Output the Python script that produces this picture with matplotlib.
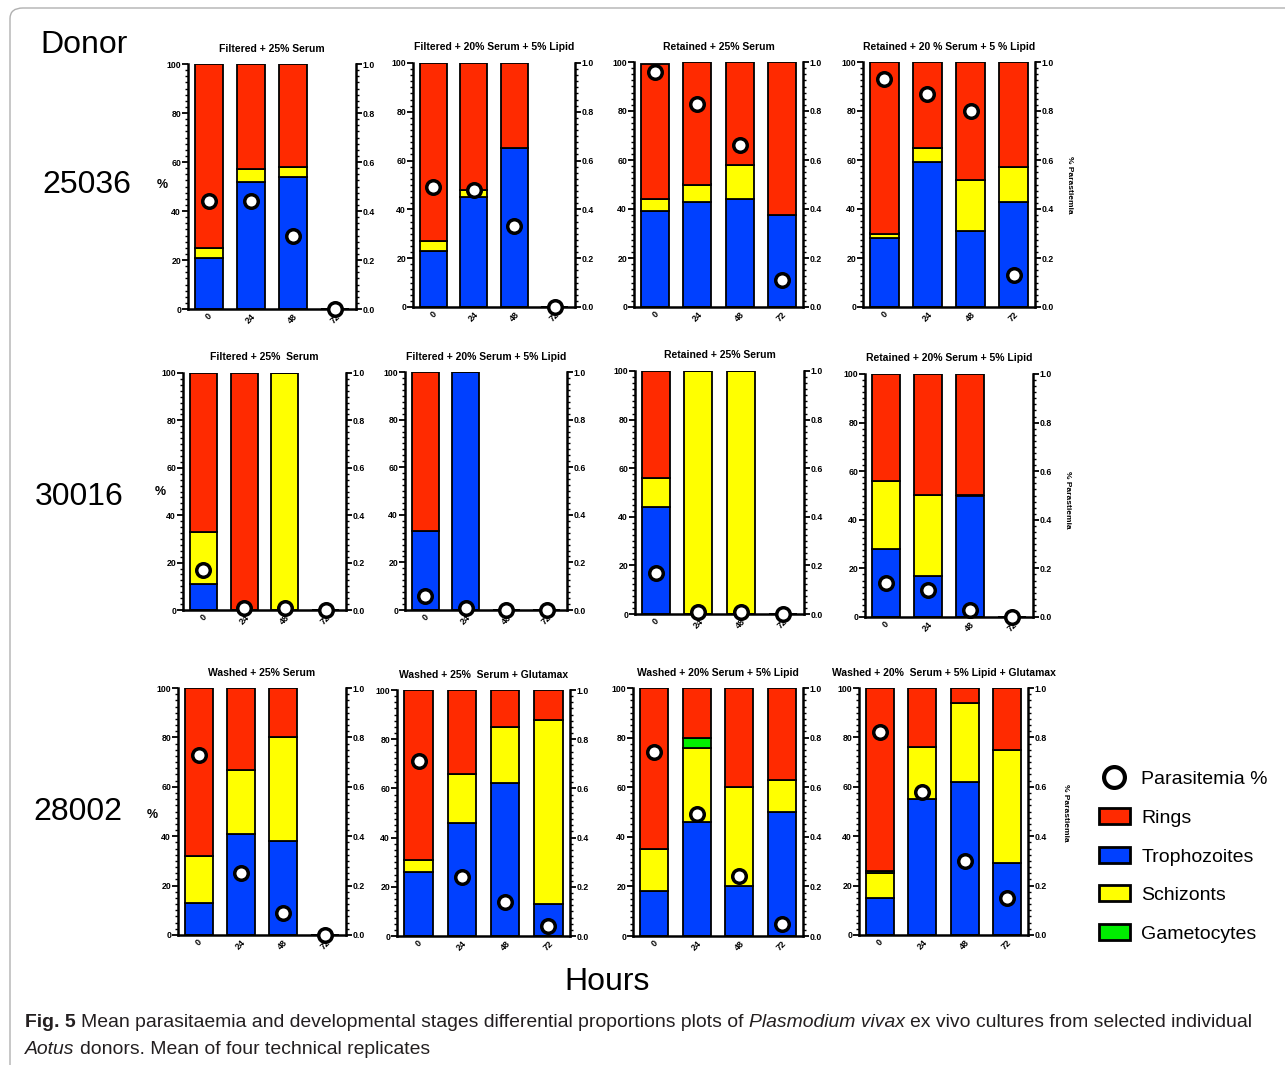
"""Fig. 5 -- stage proportions (stacked bars) + parasitaemia (circles) per donor/condition."""

import matplotlib
matplotlib.use("Agg")
import matplotlib.pyplot as plt
import matplotlib.patches as mpatches
from matplotlib.lines import Line2D
from matplotlib.ticker import MultipleLocator
import numpy as np

W, H = 1285, 1065

plt.rcParams["font.family"] = ["Liberation Sans", "DejaVu Sans"]

HOURS = ["0", "24", "48", "72"]
DONORS = ["25036", "30016", "28002"]

TITLES = [
    "Filtered + 25% Serum", "Filtered + 20% Serum + 5% Lipid",
    "Retained + 25% Serum", "Retained + 20 % Serum + 5 % Lipid",
    "Filtered + 25%  Serum", "Filtered + 20% Serum + 5% Lipid",
    "Retained + 25% Serum", "Retained + 20% Serum + 5% Lipid",
    "Washed + 25% Serum", "Washed + 25%  Serum + Glutamax",
    "Washed + 20% Serum + 5% Lipid", "Washed + 20%  Serum + 5% Lipid + Glutamax",
]

# stage percentages per panel, one value per time point (0, 24, 48, 72 h)
TROPHOZOITES = [
    [21, 52, 54, 0], [23, 45, 65, 0], [39, 43, 44, 37.5], [28, 59, 31, 43],
    [11, 0, 0, 0], [33, 100, 0, 0], [44, 0, 0, 0], [28, 17, 50, 0],
    [13, 41, 38, 0], [26, 46, 62, 13], [18, 46, 20, 50], [15, 55, 62, 29],
]
SCHIZONTS = [
    [4, 5, 4, 0], [4, 3, 0, 0], [5, 7, 14, 0], [2, 6, 21, 14],
    [22, 0, 100, 0], [0, 0, 0, 0], [12, 100, 100, 0], [28, 33, 0, 0],
    [19, 26, 42, 0], [5, 20, 23, 75], [17, 30, 40, 13], [10, 21, 32, 46],
]
GAMETOCYTES = [
    [0, 0, 0, 0], [0, 0, 0, 0], [0, 0, 0, 0], [0, 0, 0, 0],
    [0, 0, 0, 0], [0, 0, 0, 0], [0, 0, 0, 0], [0, 0, 0, 0],
    [0, 0, 0, 0], [0, 0, 0, 0], [0, 4, 0, 0], [1, 0, 0, 0],
]
RINGS = [
    [75, 43, 42, 0], [73, 52, 35, 0], [55, 50, 42, 62.5], [70, 35, 48, 43],
    [67, 100, 0, 0], [67, 0, 0, 0], [44, 0, 0, 0], [44, 50, 50, 0],
    [68, 33, 20, 0], [69, 34, 15, 12], [65, 20, 40, 37], [74, 24, 6, 25],
]
PARASITEMIA = [
    [0.44, 0.44, 0.30, 0.0], [0.49, 0.48, 0.33, 0.0], [0.96, 0.83, 0.66, 0.11], [0.93, 0.87, 0.80, 0.13],
    [0.17, 0.01, 0.01, 0.0], [0.06, 0.01, 0.0, 0.0], [0.17, 0.01, 0.01, 0.0], [0.14, 0.11, 0.03, 0.0],
    [0.73, 0.25, 0.09, 0.0], [0.71, 0.24, 0.14, 0.04], [0.74, 0.49, 0.24, 0.05], [0.82, 0.58, 0.30, 0.15],
]

C_RING = "#ff2a00"
C_TROPH = "#0040ff"
C_SCHIZ = "#ffff00"
C_GAM = "#00ee00"

# axes boxes in pixels (left, top, right, bottom)
BOXES = [
    (188, 64, 356, 309), (413, 63, 575, 307), (634, 62, 803, 307), (863, 62, 1035, 307),
    (183, 373, 346, 610), (405, 372, 567, 610), (635, 371, 804, 614), (865, 374, 1033, 617),
    (178, 688, 346, 935), (397, 690, 570, 936), (633, 688, 803, 936), (859, 688, 1028, 935),
]


def fx(px):
    return px / W


def fy(py):
    return 1 - py / H


def draw_panel(fig, i):
    l, t, r, b = BOXES[i]
    ax = fig.add_axes([fx(l), fy(b), (r - l) / W, (b - t) / H])
    x = np.arange(len(HOURS))
    bottom = np.zeros(len(HOURS))
    for vals, col in ((TROPHOZOITES[i], C_TROPH), (SCHIZONTS[i], C_SCHIZ),
                      (GAMETOCYTES[i], C_GAM), (RINGS[i], C_RING)):
        v = np.array(vals, dtype=float)
        ax.bar(x, v, 0.66, bottom=bottom, color=col, edgecolor="black",
               linewidth=1.3, zorder=2)
        bottom += v
    ax.set_xlim(-0.5, 3.5)
    ax.set_ylim(0, 100)
    ax.set_xticks(x)
    ax.set_xticklabels(HOURS, rotation=45, ha="center", fontsize=6.5, fontweight="bold")
    ax.set_yticks(range(0, 101, 20))
    ax.yaxis.set_minor_locator(MultipleLocator(2.5))
    for lab in ax.get_yticklabels():
        lab.set_fontsize(6.3)
        lab.set_fontweight("bold")
    for s in ("top", "right"):
        ax.spines[s].set_visible(False)
    for s in ("left", "bottom"):
        ax.spines[s].set_linewidth(1.8)
    ax.tick_params(axis="y", which="major", length=4, width=1.3, pad=1)
    ax.tick_params(axis="y", which="minor", length=2.2, width=1.0)
    ax.tick_params(axis="x", length=0, pad=2)

    ax2 = ax.twinx()
    ax2.set_ylim(0, 1)
    ax2.set_yticks(np.arange(0, 1.01, 0.2))
    ax2.set_yticklabels([f"{v:.1f}" for v in np.arange(0, 1.01, 0.2)],
                        fontsize=6.3, fontweight="bold")
    ax2.yaxis.set_minor_locator(MultipleLocator(0.025))
    for s in ("top", "left", "bottom"):
        ax2.spines[s].set_visible(False)
    ax2.spines["right"].set_linewidth(1.8)
    ax2.tick_params(axis="y", which="major", length=4, width=1.3, pad=1)
    ax2.tick_params(axis="y", which="minor", length=2.2, width=1.0)
    ax2.scatter(x, PARASITEMIA[i], s=95, facecolor="white", edgecolor="black",
                linewidth=2.5, zorder=5, clip_on=False)
    ax.set_title(TITLES[i], fontsize=7.5, fontweight="bold", pad=9)


def text_width(fig, s, **kw):
    r = fig.canvas.get_renderer()
    t = fig.text(0, 0, s, **kw)
    w = t.get_window_extent(r).width
    t.remove()
    return w


def rich_line(fig, x, y, parts, size, family):
    # parts: (text, weight, style); words separated by a measured space
    sp = (text_width(fig, "a a", fontsize=size, family=family)
          - text_width(fig, "aa", fontsize=size, family=family))
    cur = x
    for s, weight, style in parts:
        kw = dict(fontsize=size, family=family, fontweight=weight, fontstyle=style)
        fig.text(fx(cur), fy(y), s, va="baseline", color="#231f20", **kw)
        cur += text_width(fig, s, **kw) + sp
    return cur - x


def main():
    fig = plt.figure(figsize=(W / 100, H / 100), dpi=100)

    # frame around the figure area
    fig.patches.append(mpatches.FancyBboxPatch(
        (fx(10), fy(1100)), fx(1400), (1100 - 8) / H, boxstyle="round,pad=0,rounding_size=0.01",
        transform=fig.transFigure, facecolor="none", edgecolor="#b0b0b0", linewidth=1.0))

    for i in range(len(TITLES)):
        draw_panel(fig, i)

    fig.text(fx(40), fy(45), "Donor", fontsize=23, va="center", ha="left")
    for d, (xp, yp) in zip(DONORS, [(42, 185), (35, 497), (33, 812)]):
        fig.text(fx(xp), fy(yp), d, fontsize=23, va="center", ha="left")
    for xp, yp in [(162, 185), (160, 492), (152, 815)]:
        fig.text(fx(xp), fy(yp), "%", fontsize=9, fontweight="bold", va="center", ha="center")
    for xp, yp in [(1070, 185), (1068, 500), (1066, 813)]:
        fig.text(fx(xp), fy(yp), "% Parastiemia", fontsize=6, fontweight="bold",
                 rotation=270, va="center", ha="center")
    fig.text(fx(607), fy(982), "Hours", fontsize=23, va="center", ha="center")

    handles = [
        Line2D([], [], marker="o", linestyle="none", markersize=15, markerfacecolor="white",
               markeredgecolor="black", markeredgewidth=3),
        mpatches.Patch(facecolor=C_RING, edgecolor="black", linewidth=2),
        mpatches.Patch(facecolor=C_TROPH, edgecolor="black", linewidth=2),
        mpatches.Patch(facecolor=C_SCHIZ, edgecolor="black", linewidth=2),
        mpatches.Patch(facecolor=C_GAM, edgecolor="black", linewidth=2),
    ]
    labels = ["Parasitemia %", "Rings", "Trophozoites", "Schizonts", "Gametocytes"]
    fig.legend(handles, labels, loc="upper left", bbox_to_anchor=(fx(1081), fy(752)),
               frameon=False, fontsize=14, handlelength=1.6, handleheight=0.9,
               labelspacing=1.02, handletextpad=0.6)

    # caption, fitted to the width of the reference line
    family = ["Liberation Sans Narrow", "Liberation Sans"]
    line1 = [("Fig. 5", "bold", "normal"),
             ("Mean parasitaemia and developmental stages differential proportions plots of",
              "normal", "normal"),
             ("Plasmodium vivax", "normal", "italic"),
             ("ex vivo cultures from selected individual", "normal", "normal")]
    line2 = [("Aotus", "normal", "italic"),
             ("donors. Mean of four technical replicates", "normal", "normal")]
    size = 13.5
    probe = sum(text_width(fig, s, fontsize=size, family=family, fontweight=w, fontstyle=st)
                for s, w, st in line1)
    probe += 3 * (text_width(fig, "a a", fontsize=size, family=family)
                  - text_width(fig, "aa", fontsize=size, family=family))
    size = size * 1220 / probe
    rich_line(fig, 25, 1027, line1, size, family)
    rich_line(fig, 25, 1054, line2, size, family)

    fig.savefig("out.png", dpi=100)


if __name__ == "__main__":
    main()
